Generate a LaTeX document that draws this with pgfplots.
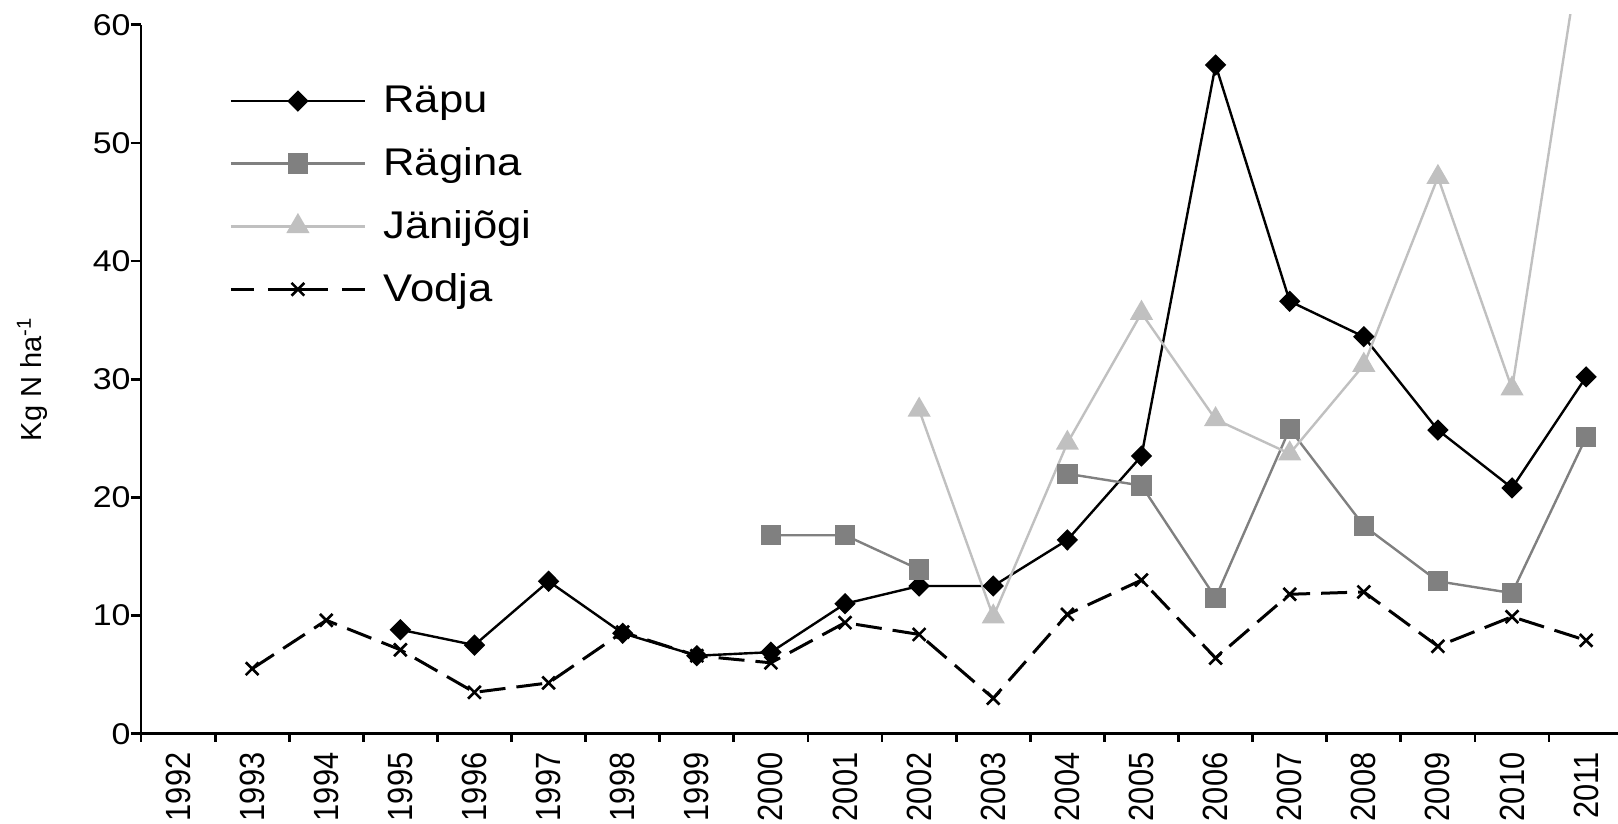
\documentclass[border=0pt]{standalone}
\usepackage{fontspec}
\setmainfont{Liberation Sans}
\newfontfamily\widefont[FakeStretch=1.13]{Liberation Sans}
\newfontfamily\narrowfont[FakeStretch=0.88]{Liberation Sans}
\usepackage{pgfplots}
\pgfplotsset{compat=1.18}
\definecolor{ragina}{HTML}{808080}
\definecolor{jani}{HTML}{C0C0C0}
\begin{document}
\begin{tikzpicture}
\path[use as bounding box] (-70.5pt,-45.15pt) rectangle (738.5pt,366.85pt);
\begin{axis}[
  at={(0pt,0pt)}, anchor=south west,
  scale only axis, width=738.5pt, height=359.35pt,
  xmin=-0.5, xmax=19.43, ymin=0, ymax=60.83,
  axis lines*=left,
  axis line style={line width=1.4pt, black},
  y axis line style={shorten >=4.9pt},
  ytick={0,10,...,60},
  xtick={0,...,19},
  xticklabels={1992,1993,1994,1995,1996,1997,1998,1999,2000,2001,2002,2003,2004,2005,2006,2007,2008,2009,2010,2011},
  major x tick style={draw=none},
  minor xtick={-0.5,0.5,...,18.5},
  tick style={line width=1.4pt, black},
  tick align=outside,
  major tick length=5pt, minor tick length=4pt,
  /pgf/number format/assume math mode=true,
  yticklabel style={font=\widefont\fontsize{15}{18}\selectfont, inner sep=0pt, anchor=east},
  xticklabel style={yshift=-4.3pt, rotate=90, anchor=east, font=\narrowfont\fontsize{17.5}{21}\selectfont, inner sep=0pt},
  ylabel={Kg N ha\textsuperscript{-1}},
  every axis y label/.style={at={(axis description cs:-0.0675,0.4932)}, anchor=base, rotate=90, font=\fontsize{14.5}{17}\selectfont},
  unbounded coords=jump,
  every axis plot/.append style={line width=1.2pt},
  legend style={draw=none, fill=none, at={(axis description cs:0.0596,0.7488)}, anchor=west, inner sep=0pt, row sep=16pt, column sep=8.5pt, font=\widefont\fontsize{19.3}{23}\selectfont, nodes={inner sep=0pt}},
  legend cell align=left,
  legend image code/.code={\draw[mark repeat=2,mark phase=2] plot coordinates {(0pt,0pt) (33.5pt,0pt) (67pt,0pt)};},
]
\addplot[black, mark=diamond*, mark size=4.5pt, mark options={xscale=1.33, solid}] coordinates {
(3,8.8)(4,7.5)(5,12.9)(6,8.5)(7,6.6)(8,6.9)(9,11.0)(10,12.5)(11,12.5)(12,16.4)(13,23.5)(14,56.6)(15,36.6)(16,33.6)(17,25.7)(18,20.8)(19,30.2)};
\addlegendentry{Räpu}
\addplot[ragina, mark=square*, mark size=4.5pt, mark options={solid}] coordinates {
(8,16.8)(9,16.8)(10,13.9)(11,nan)(12,22.0)(13,21.0)(14,11.5)(15,25.8)(16,17.6)(17,12.9)(18,11.9)(19,25.1)};
\addlegendentry{Rägina}
\addplot[jani, mark=triangle*, mark size=5.5pt, mark options={solid}] coordinates {
(10,27.4)(11,9.9)(12,24.6)(13,35.6)(14,26.6)(15,23.7)(16,31.2)(17,47.1)(18,29.2)(19,69.5)};
\addlegendentry{Jänijõgi}
\addplot[black, line width=1.5pt, dash pattern=on 13pt off 5.5pt, mark=x, mark size=4.5pt, mark options={solid, line width=1.3pt},
  legend image code/.code={\draw[dash pattern=on 11.5pt off 7pt on 30pt off 7pt on 11.5pt, mark repeat=2, mark phase=2] plot coordinates {(0pt,0pt) (33.5pt,0pt) (67pt,0pt)};}] coordinates {
(1,5.5)(2,9.6)(3,7.1)(4,3.5)(5,4.3)(6,8.6)(7,6.6)(8,6.0)(9,9.4)(10,8.4)(11,3.0)(12,10.1)(13,13.0)(14,6.4)(15,11.8)(16,12.0)(17,7.4)(18,9.9)(19,7.9)};
\addlegendentry{Vodja}
\end{axis}
\end{tikzpicture}
\end{document}
